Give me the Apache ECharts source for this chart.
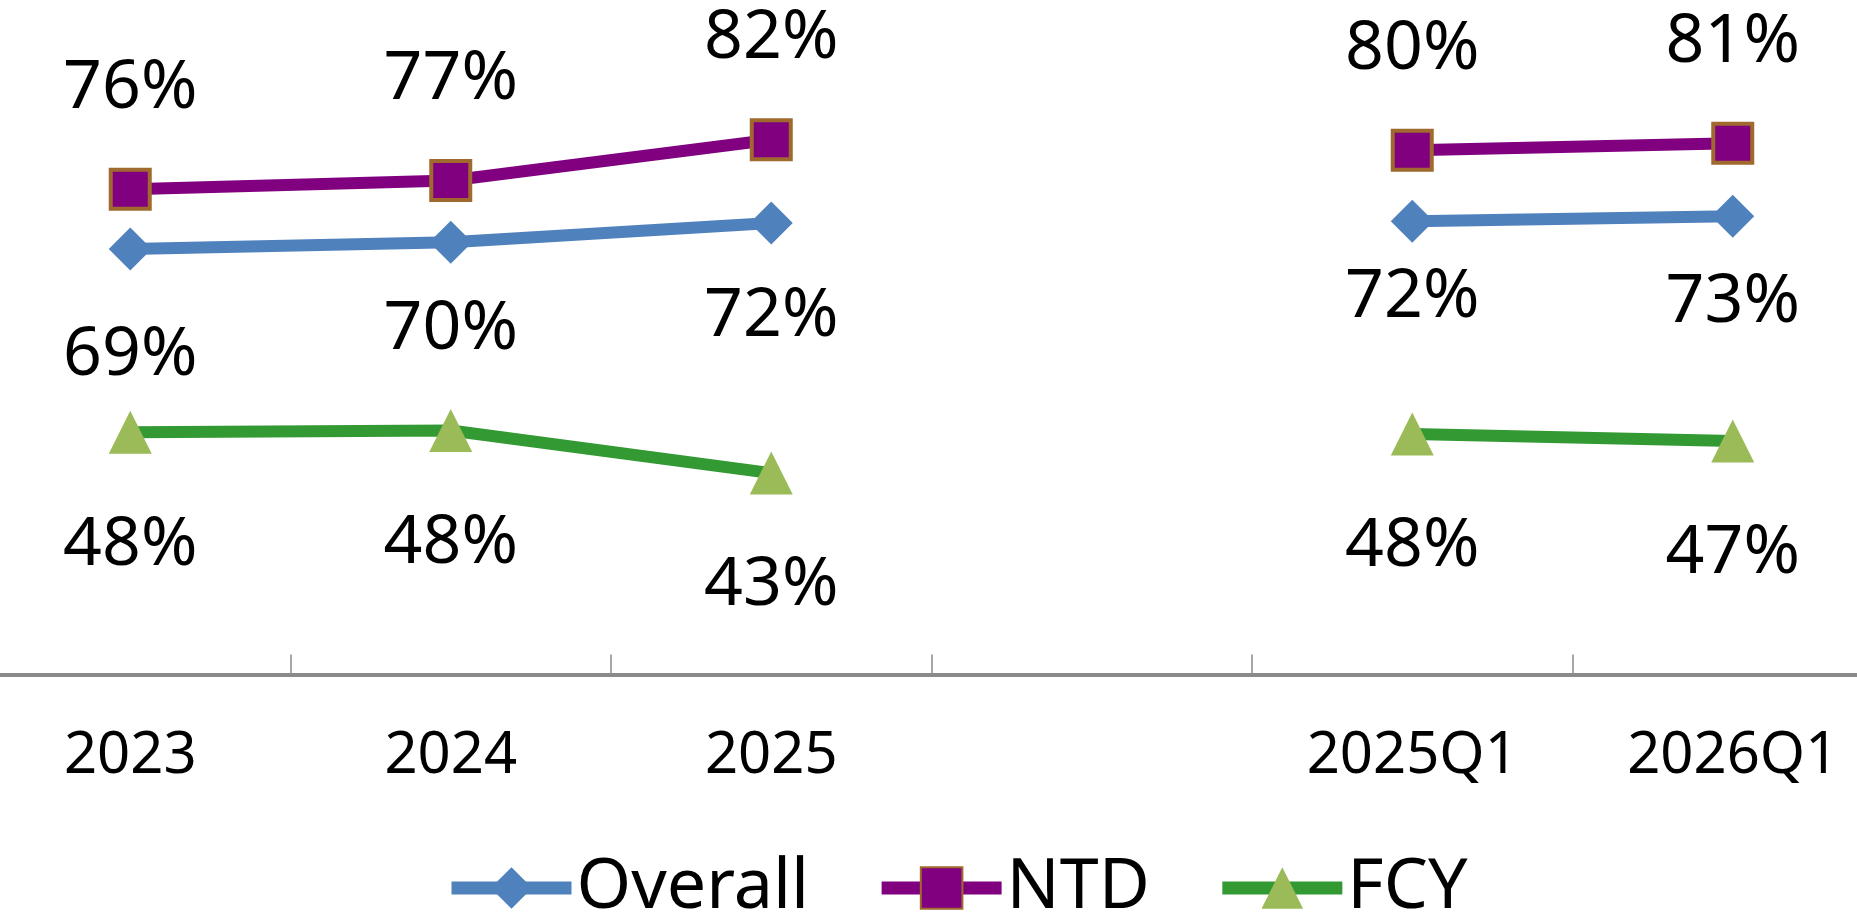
<!DOCTYPE html>
<html>
<head>
<meta charset="utf-8">
<script src="https://cdn.jsdelivr.net/npm/echarts@6/dist/echarts.min.js"></script>
<style>
  html, body { margin: 0; padding: 0; background: #ffffff; }
  #chart { width: 1857px; height: 913px; }
</style>
</head>
<body>
<div id="chart"></div>
<script>
// Periods; the empty slot separates the annual and the quarterly figures
const categories = ['2023', '2024', '2025', '', '2025Q1', '2026Q1'];

// Ratios in percent (null = no point in the separator slot)
const overall = [69.0, 69.8, 72.0, null, 72.2, 72.8];
const ntd     = [75.9, 76.9, 81.6, null, 80.4, 81.2];
const fcy     = [47.9, 48.1, 43.2, null, 47.7, 46.9];

const seriesNames = ['Overall', 'NTD', 'FCY'];

// Vertical nudge of each Overall value label below its point (px)
const overallLabelDy = [107, 87, 94, 0, 76, 86];

const FONT = 'Noto Sans';

function pctLabel(p) {
  return Math.round(p.value) + '%';
}

function valueLabel(dy) {
  return {
    show: true,
    position: 'inside',
    offset: [0, dy],
    formatter: pctLabel,
    color: '#000000',
    fontFamily: FONT,
    fontSize: 68
  };
}

function toData(values, labelDy) {
  return values.map(function (v, i) {
    if (v === null) return '-';
    if (!labelDy) return v;
    return { value: v, label: { offset: [0, labelDy[i]] } };
  });
}

const chart = echarts.init(document.getElementById('chart'), null, { renderer: 'canvas' });

chart.setOption({
  animation: false,
  backgroundColor: '#ffffff',
  textStyle: { fontFamily: FONT },
  grid: {
    left: -30, right: -36, top: -20, bottom: 238.5,
    containLabel: false,
    outerBoundsMode: 'none'
  },
  legend: {
    data: seriesNames,
    left: 440,
    top: 848,
    itemWidth: 120,
    itemHeight: 52,
    itemGap: 66,
    lineStyle: { width: 13 },
    textStyle: { fontSize: 70, color: '#000000', fontFamily: FONT }
  },
  xAxis: {
    type: 'category',
    data: categories,
    boundaryGap: true,
    axisLine: { lineStyle: { color: '#8a8a8a', width: 4 } },
    axisTick: {
      show: true, interval: 0, alignWithLabel: false, inside: true, length: 20,
      lineStyle: { color: '#8a8a8a', width: 1.5 }
    },
    axisLabel: { interval: 0, color: '#000000', fontSize: 58, margin: 53, fontFamily: FONT },
    splitLine: { show: false }
  },
  yAxis: {
    type: 'value',
    min: 20,
    max: 100,
    show: false
  },
  series: [
    {
      name: 'Overall',
      type: 'line',
      data: toData(overall, overallLabelDy),
      symbol: 'diamond',
      symbolSize: 43,
      lineStyle: { color: '#4f81bd', width: 12 },
      itemStyle: { color: '#4f81bd' },
      label: valueLabel(90),
      emphasis: { disabled: true },
      z: 3
    },
    {
      name: 'NTD',
      type: 'line',
      data: toData(ntd),
      symbol: 'rect',
      symbolSize: 39,
      lineStyle: { color: '#800080', width: 12 },
      itemStyle: { color: '#800080', borderColor: '#a0692e', borderWidth: 4 },
      label: valueLabel(-101),
      emphasis: { disabled: true },
      z: 3
    },
    {
      name: 'FCY',
      type: 'line',
      data: toData(fcy),
      symbol: 'triangle',
      symbolSize: 43,
      lineStyle: { color: '#339933', width: 12 },
      itemStyle: { color: '#9bbb59' },
      label: valueLabel(113),
      emphasis: { disabled: true },
      z: 3
    }
  ]
});
</script>
</body>
</html>
